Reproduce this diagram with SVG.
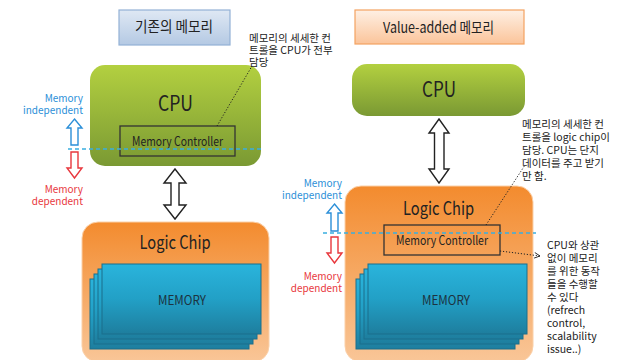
<svg xmlns="http://www.w3.org/2000/svg" width="638" height="360" viewBox="0 0 638 360">
<defs>
<linearGradient id="gCpu" x1="0" y1="0" x2="0" y2="1"><stop offset="0" stop-color="#b3d040"/><stop offset="1" stop-color="#7a9933"/></linearGradient>
<linearGradient id="gLogic" x1="0" y1="0" x2="0" y2="1"><stop offset="0" stop-color="#f38b2e"/><stop offset="1" stop-color="#f9c698"/></linearGradient>
<linearGradient id="gMem" x1="0" y1="0" x2="0" y2="1"><stop offset="0" stop-color="#2ab4dc"/><stop offset="0.5" stop-color="#22a0c6"/><stop offset="1" stop-color="#1e7e9e"/></linearGradient>
<linearGradient id="gT1" x1="0" y1="0" x2="0" y2="1"><stop offset="0" stop-color="#dfe8f4"/><stop offset="1" stop-color="#b4c9e3"/></linearGradient>
<linearGradient id="gT2" x1="0" y1="0" x2="0" y2="1"><stop offset="0" stop-color="#fef0e4"/><stop offset="1" stop-color="#fbc49a"/></linearGradient>
<marker id="chev" viewBox="0 0 10 10" refX="9" refY="5" markerWidth="7" markerHeight="7" orient="auto" markerUnits="userSpaceOnUse"><path d="M1,1 L9,5 L1,9" fill="none" stroke="#222" stroke-width="1.3"/></marker>
</defs>
<style>
text{font-family:"Noto Sans CJK KR","Noto Sans",sans-serif;fill:#222}
.title{font-size:15px;text-anchor:middle}
.cpu{fill:url(#gCpu)}
.logic{fill:url(#gLogic);stroke:#fbd0a8;stroke-width:1}
.mem{fill:url(#gMem);stroke:#1b6f8c;stroke-width:1}
.big{font-size:21px;text-anchor:middle}
.lc{font-size:18px;text-anchor:middle}
.mc{fill:none;stroke:#333;stroke-width:1.3}
.mct{font-size:12.5px;text-anchor:middle}
.memt{font-size:12.5px;text-anchor:middle;fill:#1d3340}
.note{font-size:10.5px}
.blue{font-size:10px;fill:#2b8fd8;text-anchor:end}
.red{font-size:10px;fill:#e8373d;text-anchor:end}
.dbl{fill:#fff;stroke:#222;stroke-width:1.4;stroke-linejoin:miter}
.ua{fill:#fff;stroke:#2b8fd8;stroke-width:1.4}
.da{fill:#fff;stroke:#e8373d;stroke-width:1.4}
.dash{stroke:#3aaee0;stroke-width:1.3;stroke-dasharray:4 3;fill:none}
.dot{stroke:#222;stroke-width:1;stroke-dasharray:1.2 1.8;fill:none}
</style>

<g id="title-left"><rect x="119" y="10" width="111" height="35" fill="url(#gT1)" stroke="#93b1d6" stroke-width="1.2"/><text class="title" x="174" y="32" textLength="78" lengthAdjust="spacingAndGlyphs">기존의 메모리</text></g>
<g id="title-right"><rect x="355" y="10" width="169" height="34" fill="url(#gT2)" stroke="#f4a261" stroke-width="1.2"/><text class="title" x="438.5" y="33" textLength="111" lengthAdjust="spacingAndGlyphs">Value-added 메모리</text></g>

<g id="cpu-left"><rect class="cpu" x="90" y="65" width="171" height="101" rx="15"/><text class="big" x="175.5" y="111" textLength="35" lengthAdjust="spacingAndGlyphs">CPU</text></g>
<g id="mc-left"><rect class="mc" x="120" y="126" width="115" height="30"/><text class="mct" x="177.5" y="146" textLength="91" lengthAdjust="spacingAndGlyphs">Memory Controller</text></g>

<g id="logic-left"><rect class="logic" x="82" y="222" width="187" height="140" rx="16"/><text class="lc" x="175" y="249" textLength="71" lengthAdjust="spacingAndGlyphs">Logic Chip</text></g>
<g id="memory-left">
<rect class="mem" x="90" y="279" width="159" height="70"/>
<rect class="mem" x="94" y="274" width="159" height="70"/>
<rect class="mem" x="98" y="269" width="159" height="70"/>
<rect class="mem" x="102" y="264" width="159" height="70"/>
<text class="memt" x="182" y="305" textLength="48" lengthAdjust="spacingAndGlyphs">MEMORY</text></g>

<g id="cpu-right"><rect class="cpu" x="352" y="64" width="173" height="52" rx="15"/><text class="big" x="439" y="97" textLength="34" lengthAdjust="spacingAndGlyphs">CPU</text></g>
<g id="logic-right"><rect class="logic" x="345" y="186" width="188" height="176" rx="16"/><text class="lc" x="438.5" y="215" textLength="71" lengthAdjust="spacingAndGlyphs">Logic Chip</text></g>
<g id="mc-right"><rect class="mc" x="384" y="225" width="116" height="30"/><text class="mct" x="442" y="245" textLength="92" lengthAdjust="spacingAndGlyphs">Memory Controller</text></g>
<g id="memory-right">
<rect class="mem" x="356" y="279" width="159" height="70"/>
<rect class="mem" x="360" y="274" width="159" height="70"/>
<rect class="mem" x="364" y="269" width="159" height="70"/>
<rect class="mem" x="368" y="264" width="159" height="70"/>
<text class="memt" x="446" y="305" textLength="48" lengthAdjust="spacingAndGlyphs">MEMORY</text></g>

<g id="note-left"><text class="note" x="249" y="42">메모리의 세세한 컨</text><text class="note" x="249" y="54">트롤을 CPU가 전부</text><text class="note" x="249" y="66">담당</text></g>
<g id="note-right"><text class="note" x="522" y="128">메모리의 세세한 컨</text><text class="note" x="522" y="141">트롤을 logic chip이</text><text class="note" x="522" y="154">담당. CPU는 단지</text><text class="note" x="522" y="167">데이터를 주고 받기</text><text class="note" x="522" y="180">만 함.</text></g>
<g id="note-right2">
<text class="note" x="547" y="249">CPU와 상관</text><text class="note" x="547" y="262">없이 메모리</text><text class="note" x="547" y="275">를 위한 동작</text><text class="note" x="547" y="288">들을 수행할</text><text class="note" x="547" y="301">수 있다</text><text class="note" x="547" y="314">(refrech</text><text class="note" x="547" y="327">control,</text><text class="note" x="547" y="340">scalability</text><text class="note" x="547" y="353">issue..)</text></g>

<g id="labels-left"><text class="blue" x="83" y="102">Memory</text><text class="blue" x="83" y="114">independent</text><text class="red" x="83" y="193">Memory</text><text class="red" x="83" y="205">dependent</text></g>
<g id="labels-right"><text class="blue" x="342" y="187">Memory</text><text class="blue" x="342" y="199">independent</text><text class="red" x="342" y="280">Memory</text><text class="red" x="342" y="292">dependent</text></g>

<g id="connectors">
<path class="dbl" d="M175,169 L186,183 L179,183 L179,205 L186,205 L175,219 L164,205 L171,205 L171,183 L164,183 Z"/>
<path class="dbl" d="M439,119 L449,133 L444,133 L444,169 L449,169 L439,183 L429,169 L434.5,169 L434.5,133 L429,133 Z"/>
<path class="ua" d="M74.5,119 L82,128 L78,128 L78,145 L71,145 L71,128 L67,128 Z"/>
<path class="da" d="M71,152 L78,152 L78,168 L82,168 L74.5,178 L67,168 L71,168 Z"/>
<path class="ua" d="M334.5,204 L342,213 L338,213 L338,231 L331,231 L331,213 L327,213 Z"/>
<path class="da" d="M331,237 L338,237 L338,253 L342,253 L334.5,263 L327,253 L331,253 Z"/>
<line class="dash" x1="68" y1="149" x2="261" y2="149"/>
<line class="dash" x1="323" y1="233" x2="536" y2="233"/>
<line class="dot" x1="217" y1="126" x2="252" y2="66"/>
<line class="dot" x1="486" y1="225" x2="525" y2="165"/>
<line class="dot" x1="500" y1="251" x2="540" y2="256" marker-end="url(#chev)"/>
</g>
</svg>
